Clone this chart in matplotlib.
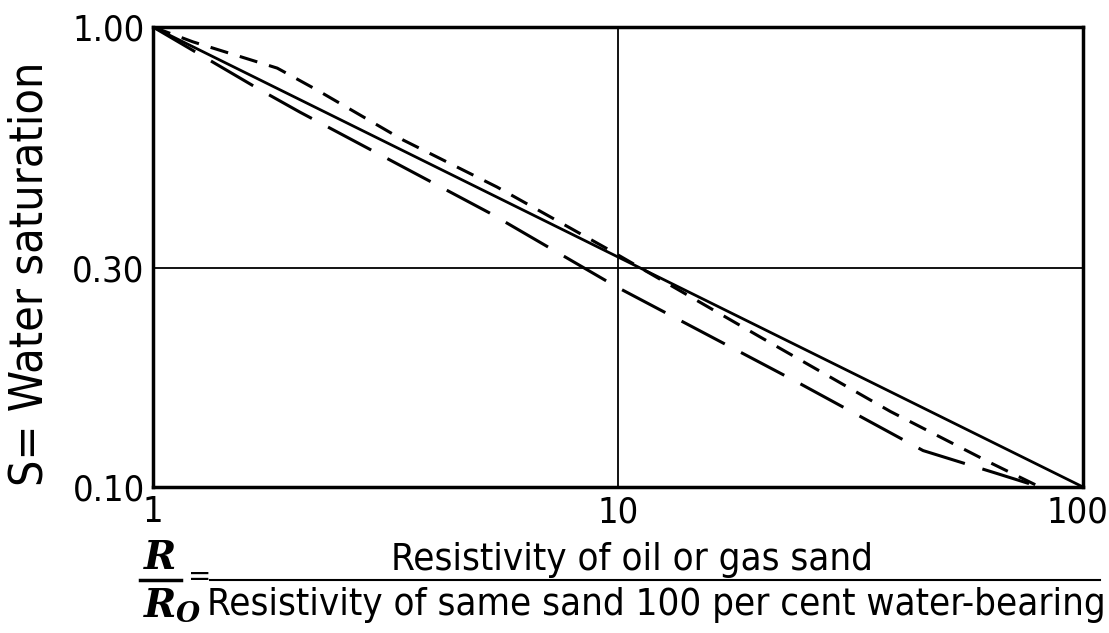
import matplotlib
matplotlib.use("Agg")
import matplotlib.pyplot as plt
from matplotlib.lines import Line2D
from matplotlib.transforms import ScaledTranslation

# Data
solid_x = [1.0, 100.0]
solid_y = [1.00, 0.10]

short_x = [1.0, 1.22, 1.85, 2.25, 3.45, 5.49, 9.61, 20.2, 38.5, 63.1, 80.8]
short_y = [1.00, 0.928, 0.814, 0.730, 0.568, 0.449, 0.327, 0.212, 0.146, 0.113, 0.100]

long_x = [1.0, 1.70, 2.07, 5.30, 9.95, 24.3, 45.3, 65.3, 80.8]
long_y = [1.00, 0.730, 0.653, 0.394, 0.272, 0.169, 0.120, 0.107, 0.100]

x_ticks = [1, 10, 100]
x_ticklabels = ["1", "10", "100"]
y_ticks = [0.10, 0.30, 1.00]
y_ticklabels = ["0.10", "0.30", "1.00"]

FONT = ["DejaVu Sans"]
ST = "condensed"

fig = plt.figure(figsize=(11.09, 6.33), dpi=100)
ax = fig.add_axes([153/1109, 1-487/633, (1083-153)/1109, (487-27)/633])

ax.set_xscale("log")
ax.set_yscale("log")
ax.set_xlim(1, 100)
ax.set_ylim(0.10, 1.00)

ax.plot(solid_x, solid_y, color="black", lw=2.0, solid_capstyle="butt")
ax.plot(short_x, short_y, color="black", lw=2.2, linestyle=(0, (6, 4)))
ax.plot(long_x, long_y, color="black", lw=2.2, linestyle=(0, (16, 6)))

ax.axvline(10, color="black", lw=1.3)
ax.axhline(0.30, color="black", lw=1.3)

ax.minorticks_off()
ax.set_xticks(x_ticks)
ax.set_xticklabels(x_ticklabels, fontsize=26, family=FONT, stretch=ST)
ax.set_yticks(y_ticks)
ax.set_yticklabels(y_ticklabels, fontsize=26, family=FONT, stretch=ST)
ax.tick_params(length=0, pad=6)
for sp in ax.spines.values():
    sp.set_linewidth(2.5)
# shift the "100" label slightly left so it stays inside the figure
lab = ax.get_xticklabels()[-1]
lab.set_transform(lab.get_transform() + ScaledTranslation(-6/100, 0, fig.dpi_scale_trans))

# Y label
fig.text(30/1109, 1-486/633, "S= Water saturation", rotation=90, fontsize=33.5,
         family=FONT, stretch=ST, ha="center", va="bottom")

# X label as a fraction
fig.text(160/1109, 1-558/633, "R", fontsize=28, fontweight="bold", style="italic",
         family=["DejaVu Serif"], ha="center", va="center")
fig.text(160/1109, 1-606/633, "R", fontsize=28, fontweight="bold",
         style="italic", family=["DejaVu Serif"], ha="center", va="center")
fig.text(188/1109, 1-614/633, "O", fontsize=20, fontweight="bold",
         style="italic", family=["DejaVu Serif"], ha="center", va="center")
fig.add_artist(Line2D([140/1109, 181/1109], [1-580/633, 1-580/633], color="black", lw=2.5))
fig.text(200/1109, 1-577/633, "=", fontsize=20, family=FONT, ha="center", va="center")
fig.add_artist(Line2D([210/1109, 1100/1109], [1-580/633, 1-580/633], color="black", lw=1.5))
fig.text(632/1109, 1-560/633, "Resistivity of oil or gas sand", fontsize=27.5,
         family=FONT, stretch=ST, ha="center", va="center")
fig.text(656/1109, 1-605/633, "Resistivity of same sand 100 per cent water-bearing",
         fontsize=27.5, family=FONT, stretch=ST, ha="center", va="center")

fig.savefig("out.png", dpi=100)
